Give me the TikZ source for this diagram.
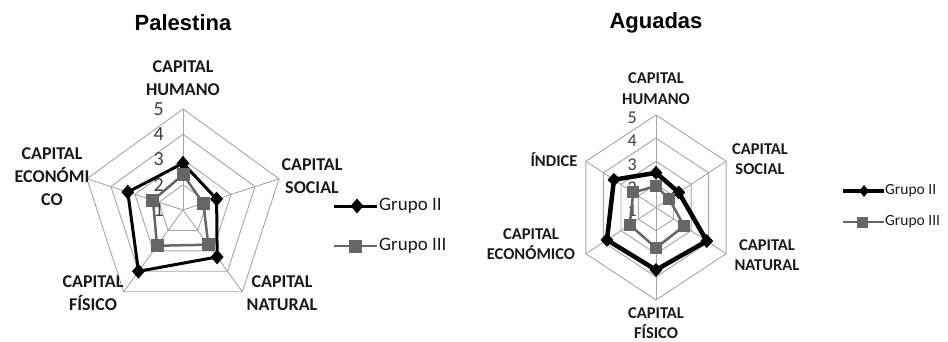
\documentclass[tikz,border=0pt]{standalone}
\usepackage{fontspec}
\setmainfont{Carlito}
\newfontfamily\titlefont{Liberation Sans}
\usetikzlibrary{shapes.geometric}
\definecolor{gridc}{HTML}{A6A6A6}
\definecolor{gthree}{HTML}{666666}
\definecolor{txt}{HTML}{1A1A1A}
\definecolor{tickc}{HTML}{404040}
\tikzset{
  gridline/.style={draw=gridc, line width=0.9pt},
  lineII/.style={line width=3pt, black, line join=round},
  lineIII/.style={line width=2.5pt, gthree, line join=round},
  mkII/.style={diamond, fill=black, inner sep=0pt, minimum width=13pt, minimum height=15pt},
  mkIII/.style={rectangle, fill=gthree, inner sep=0pt, minimum size=13pt},
  mkIIs/.style={diamond, fill=black, inner sep=0pt, minimum width=13pt, minimum height=14pt},
  mkIIIs/.style={rectangle, fill=gthree, inner sep=0pt, minimum size=12pt},
  catA/.style={font=\bfseries\fontsize{18}{23}\selectfont, align=center, text=txt, inner sep=0pt},
  catB/.style={font=\bfseries\fontsize{16.5}{20.5}\selectfont, align=center, text=txt, inner sep=0pt},
  tickA/.style={font=\fontsize{20}{20}\selectfont, text=tickc, inner sep=0pt, anchor=east},
  tickB/.style={font=\fontsize{18}{18}\selectfont, text=tickc, inner sep=0pt, anchor=east},
  legA/.style={font=\fontsize{19}{19}\selectfont, text=txt, inner sep=0pt, anchor=west},
  legB/.style={font=\fontsize{15.5}{15.5}\selectfont, text=txt, inner sep=0pt, anchor=west},
  ttl/.style={font=\titlefont\bfseries\fontsize{22}{22}\selectfont, text=black, inner sep=0pt}
}
\begin{document}
\begin{tikzpicture}[x=1pt,y=-1pt]
\useasboundingbox (0,0) rectangle (948,342);
\fill[white] (0,0) rectangle (948,342);

% ---------------- Palestina ----------------
\node[ttl] (tP) at (183,23) {Palestina};
\begin{scope}[shift={(183,210)}]
  \foreach \k in {1,2,3,4}{
    \draw[gridline] (-90:{\k*25.25}) -- (-18:{\k*25.25}) -- (54:{\k*25.25}) -- (126:{\k*25.25}) -- (198:{\k*25.25}) -- cycle;}
  \foreach \a in {-90,-18,54,126,198} \draw[gridline] (0,0) -- (\a:101);
  \foreach \v/\k in {1/0,2/1,3/2,4/3,5/4} \node[tickA] (tkP\v) at (-19,{-\k*25.25}) {\v};
  % Grupo III
  \coordinate (q1) at (-90:{(2.4-1)*25.25});
  \coordinate (q2) at (-18:{(1.85-1)*25.25});
  \coordinate (q3) at (54:{(2.7-1)*25.25});
  \coordinate (q4) at (126:{(2.75-1)*25.25});
  \coordinate (q5) at (198:{(2.25-1)*25.25});
  \draw[lineIII] (q1) -- (q2) -- (q3) -- (q4) -- (q5) -- cycle;
  % Grupo II
  \coordinate (p1) at (-90:{(2.85-1)*25.25});
  \coordinate (p2) at (-18:{(2.4-1)*25.25});
  \coordinate (p3) at (54:{(3.3-1)*25.25});
  \coordinate (p4) at (126:{(4.0-1)*25.25});
  \coordinate (p5) at (198:{(3.3-1)*25.25});
  \draw[lineII] (p1) -- (p2) -- (p3) -- (p4) -- (p5) -- cycle;
  \foreach \i in {1,...,5} \node[mkII] (mp\i) at (p\i) {};
  \foreach \i in {1,...,5} \node[mkIII] (mq\i) at (q\i) {};
\end{scope}
\node[catA] (lPh) at (183,78.5) {CAPITAL\\HUMANO};
\node[catA] (lPs) at (312,176.5) {CAPITAL\\SOCIAL};
\node[catA] (lPn) at (282,293.5) {CAPITAL\\NATURAL};
\node[catA] (lPf) at (93,293.5) {CAPITAL\\FÍSICO};
\node[catA] (lPe) at (52,177) {CAPITAL\\ECONÓMI\\CO};
% legend
\coordinate (lgPa1) at (334,206); \coordinate (lgPa2) at (377,206);
\draw[lineII] (lgPa1) -- (lgPa2);
\node[mkII] (lgPam) at (357,206) {};
\node[legA] (lgPat) at (379,206) {Grupo II};
\coordinate (lgPb1) at (334,246); \coordinate (lgPb2) at (377,246);
\draw[lineIII] (lgPb1) -- (lgPb2);
\node[mkIII] (lgPbm) at (355,246) {};
\node[legA] (lgPbt) at (379,246) {Grupo III};

% ---------------- Aguadas ----------------
\node[ttl] (tA) at (656,23) {Aguadas};
\begin{scope}[shift={(656,207.5)}]
 \begin{scope}[xscale=0.875]
  \foreach \k in {1,2,3,4}{
    \draw[gridline] (-90:{\k*23.125}) -- (-30:{\k*23.125}) -- (30:{\k*23.125}) -- (90:{\k*23.125}) -- (150:{\k*23.125}) -- (210:{\k*23.125}) -- cycle;}
  \foreach \a in {-90,-30,30,90,150,210} \draw[gridline] (0,0) -- (\a:92.5);
  \coordinate (s1) at (-90:{(1.93-1)*23.125});
  \coordinate (s2) at (-30:{(1.75-1)*23.125});
  \coordinate (s3) at (30:{(2.6-1)*23.125});
  \coordinate (s4) at (90:{(2.75-1)*23.125});
  \coordinate (s5) at (150:{(2.5-1)*23.125});
  \coordinate (s6) at (210:{(2.3-1)*23.125});
  \coordinate (r1) at (-90:{(2.5-1)*23.125});
  \coordinate (r2) at (-30:{(2.3-1)*23.125});
  \coordinate (r3) at (30:{(3.9-1)*23.125});
  \coordinate (r4) at (90:{(3.7-1)*23.125});
  \coordinate (r5) at (150:{(3.8-1)*23.125});
  \coordinate (r6) at (210:{(3.4-1)*23.125});
 \end{scope}
  \foreach \v/\k in {1/0,2/1,3/2,4/3,5/4} \node[tickB] (tkA\v) at (-19,{3-\k*23.125}) {\v};
  \draw[lineIII] (s1) -- (s2) -- (s3) -- (s4) -- (s5) -- (s6) -- cycle;
  \draw[lineII, line width=4.5pt] (r1) -- (r2) -- (r3) -- (r4) -- (r5) -- (r6) -- cycle;
  \foreach \i in {1,...,6} \node[mkIIs] (mr\i) at (r\i) {};
  \foreach \i in {1,...,6} \node[mkIIIs] (ms\i) at (s\i) {};
\end{scope}
\node[catB] (lAh) at (656,88.5) {CAPITAL\\HUMANO};
\node[catB] (lAs) at (760,159) {CAPITAL\\SOCIAL};
\node[catB] (lAn) at (767,255) {CAPITAL\\NATURAL};
\node[catB, font=\bfseries\fontsize{16.5}{20}\selectfont] (lAf) at (656,323) {CAPITAL\\FÍSICO};
\node[catB] (lAe) at (531,244) {CAPITAL\\ECONÓMICO};
\node[catB] (lAi) at (554,160) {ÍNDICE};
% legend
\coordinate (lgAa1) at (843,191); \coordinate (lgAa2) at (884,191);
\draw[lineII, line width=4.5pt] (lgAa1) -- (lgAa2);
\node[mkIIs, minimum width=10pt, minimum height=12pt] (lgAam) at (864,191) {};
\node[legB] (lgAat) at (885,191) {Grupo II};
\coordinate (lgAb1) at (843,222); \coordinate (lgAb2) at (884,222);
\draw[lineIII] (lgAb1) -- (lgAb2);
\node[mkIIIs, minimum size=11pt] (lgAbm) at (862,222) {};
\node[legB] (lgAbt) at (885,222) {Grupo III};
\end{tikzpicture}
\end{document}
